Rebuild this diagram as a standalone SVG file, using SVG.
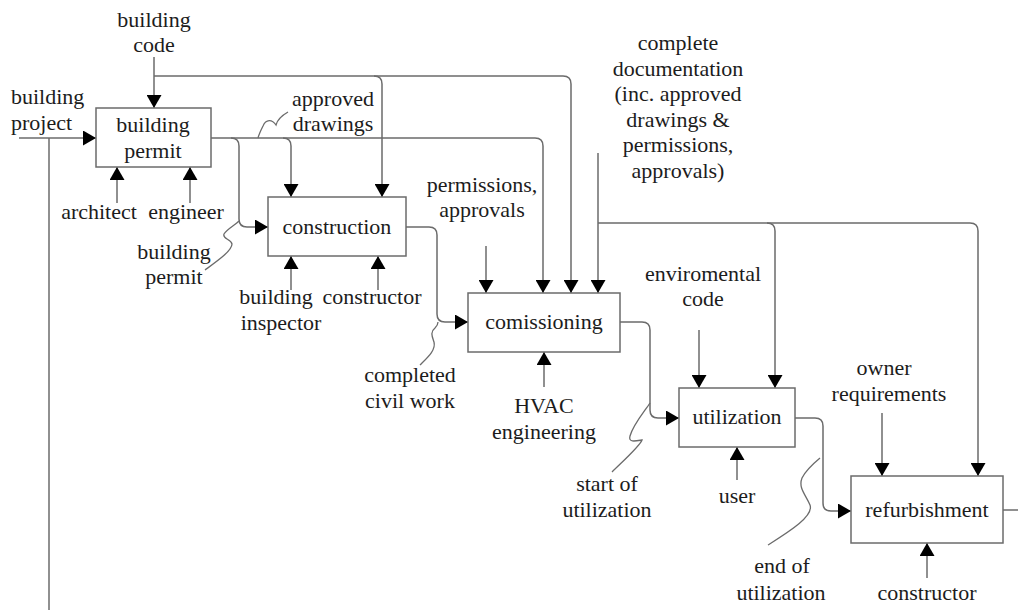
<svg xmlns="http://www.w3.org/2000/svg" width="1018" height="613" viewBox="0 0 1018 613">
  <style>
    .box { fill: #ffffff; stroke: #6b6b6b; stroke-width: 1.5; }
    .ln { fill: none; stroke: #6b6b6b; stroke-width: 1.5; }
    .sq { fill: none; stroke: #6b6b6b; stroke-width: 1.3; }
    .arr { marker-end: url(#head); }
    text { font-family: "Liberation Serif", "Times New Roman", serif; font-size: 22px; fill: #1c1c1c; text-anchor: middle; }
    .start { text-anchor: start; }
  </style>
  <defs>
    <marker id="head" markerUnits="userSpaceOnUse" markerWidth="14" markerHeight="15" refX="13" refY="7.500" orient="auto">
      <path d="M0,0 L13,7.500 L0,15 Z" fill="#000000"/>
    </marker>
  </defs>
  <rect width="1018" height="613" fill="#ffffff"/>

  <!-- connectors -->
  <g id="connectors">
    <!-- building code -->
    <path class="ln arr" d="M154,57 V108"/>
    <path class="ln arr" d="M154,76 H563 Q571,76 571,84 V293"/>
    <path class="ln arr" d="M374,76 Q382,76 382,84 V197"/>
    <!-- building project -->
    <path class="ln arr" d="M19,138 H96"/>
    <path class="ln" d="M49,138 V610"/>
    <!-- building permit output / approved drawings -->
    <path class="ln arr" d="M211,138 H535 Q543,138 543,146 V293"/>
    <path class="ln arr" d="M231,138 Q239,138 239,146 V219 Q239,227 247,227 H268"/>
    <path class="ln arr" d="M283,138 Q291,138 291,146 V197"/>
    <!-- mechanisms of building permit -->
    <path class="ln arr" d="M117,203 V167"/>
    <path class="ln arr" d="M190,203 V167"/>
    <!-- construction output -->
    <path class="ln arr" d="M406,227 H429 Q437,227 437,235 V314 Q437,322 445,322 H468"/>
    <path class="ln arr" d="M291,290 V256"/>
    <path class="ln arr" d="M378,290 V256"/>
    <!-- permissions -->
    <path class="ln arr" d="M486,246 V293"/>
    <!-- complete documentation -->
    <path class="ln arr" d="M598,153 V293"/>
    <path class="ln arr" d="M598,223 H970 Q978,223 978,231 V476"/>
    <path class="ln arr" d="M767,223 Q775,223 775,231 V388"/>
    <!-- HVAC -->
    <path class="ln arr" d="M544,387 V352"/>
    <!-- comissioning output -->
    <path class="ln arr" d="M620,322 H642 Q650,322 650,330 V410 Q650,418 658,418 H679"/>
    <!-- enviromental code, user -->
    <path class="ln arr" d="M699,330 V388"/>
    <path class="ln arr" d="M737,480 V447"/>
    <!-- utilization output -->
    <path class="ln arr" d="M795,418 H815 Q823,418 823,426 V503 Q823,511 831,511 H851"/>
    <!-- refurbishment -->
    <path class="ln arr" d="M882,413 V476"/>
    <path class="ln arr" d="M927,578 V543"/>
    <path class="ln" d="M1003,510 H1018"/>
    <!-- label squiggles -->
    <path class="sq" d="M288,112 C281,116 277,121 276,125 C272,119 266,119 263,126 C261,130 259,134 258,138"/>
    <path class="sq" d="M205,270 C216,262 232,251 232,244 C231,239 222,239 224,234 C227,229 235,225 239,221"/>
    <path class="sq" d="M420,365 C428,357 436,350 434,342 C432,336 430,332 435,328 C437,326 438,324 438,322"/>
    <path class="sq" d="M612,472 C622,462 640,446 642,440 C636,441 628,443 630,436 C633,425 644,412 650,403"/>
    <path class="sq" d="M768,545 C790,531 814,516 810,505 C806,495 798,488 802,478 C806,470 814,463 820,458"/>
  </g>

  <!-- process boxes -->
  <g id="building-permit">
    <rect class="box" x="96" y="108" width="115" height="59"/>
    <text x="153" y="132">building</text>
    <text x="153" y="158">permit</text>
  </g>
  <g id="construction">
    <rect class="box" x="268" y="197" width="138" height="59"/>
    <text x="337" y="234">construction</text>
  </g>
  <g id="comissioning">
    <rect class="box" x="468" y="293" width="152" height="59"/>
    <text x="544" y="329">comissioning</text>
  </g>
  <g id="utilization">
    <rect class="box" x="679" y="388" width="116" height="59"/>
    <text x="737" y="424">utilization</text>
  </g>
  <g id="refurbishment">
    <rect class="box" x="851" y="476" width="152" height="67"/>
    <text x="927" y="517">refurbishment</text>
  </g>

  <!-- arrow labels -->
  <g id="labels">
    <text x="154" y="27">building</text>
    <text x="154" y="52">code</text>
    <text class="start" x="11" y="104">building</text>
    <text class="start" x="11" y="130">project</text>
    <text x="99" y="219">architect</text>
    <text x="186" y="219">engineer</text>
    <text x="174" y="259">building</text>
    <text x="174" y="284">permit</text>
    <text x="333" y="106">approved</text>
    <text x="333" y="131">drawings</text>
    <text x="276" y="304">building</text>
    <text x="281" y="330">inspector</text>
    <text x="372" y="304">constructor</text>
    <text x="482" y="192">permissions,</text>
    <text x="482" y="217">approvals</text>
    <text x="410" y="382">completed</text>
    <text x="410" y="408">civil work</text>
    <text x="544" y="413">HVAC</text>
    <text x="544" y="439">engineering</text>
    <text x="678" y="50">complete</text>
    <text x="678" y="75.500">documentation</text>
    <text x="678" y="101">(inc. approved</text>
    <text x="678" y="126.500">drawings &amp;</text>
    <text x="678" y="152">permissions,</text>
    <text x="678" y="177.500">approvals)</text>
    <text x="703" y="281">enviromental</text>
    <text x="703" y="306">code</text>
    <text x="737" y="503">user</text>
    <text x="607" y="491">start of</text>
    <text x="607" y="517">utilization</text>
    <text x="884" y="375">owner</text>
    <text x="889" y="401">requirements</text>
    <text x="782" y="573">end of</text>
    <text x="781" y="600">utilization</text>
    <text x="927" y="600">constructor</text>
  </g>
</svg>
